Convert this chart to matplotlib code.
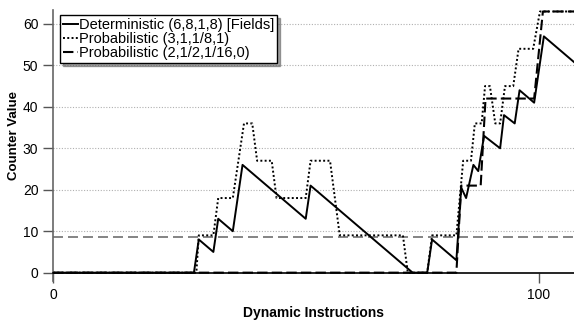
import matplotlib.pyplot as plt

plt.rcParams['font.family'] = ['Liberation Sans', 'DejaVu Sans']

# Deterministic (6,8,1,8) [Fields]
det_x = [0, 29, 30, 33, 34, 37, 39, 52, 53, 74, 77, 78, 83, 84, 85, 86.5, 87.5, 88.7,
         92, 92.8, 95, 96, 99, 101, 107.5]
det_y = [0, 0, 8, 5, 13, 10, 26, 13, 21, 0, 0, 8, 3, 20.5, 18, 26, 24.5, 33,
         30, 38, 36, 44, 41, 57, 50.5]

# Probabilistic (3,1,1/8,1)
p1_x = [0, 29.5, 30, 33, 34, 37, 39.3, 41, 42, 45, 46, 52, 53, 57, 59, 72, 73, 77, 78,
        83, 84.4, 86, 86.8, 88.2, 88.9, 89.9, 91, 92, 93, 94.7, 95.8, 98.8, 100.2, 107.5]
p1_y = [0, 0, 9, 9, 18, 18, 36, 36, 27, 27, 18, 18, 27, 27, 9, 9, 0, 0, 9,
        9, 27, 27, 36, 36, 45, 45, 36, 36, 45, 45, 54, 54, 63, 63]

# Probabilistic (2,1/2,1/16,0)
p2_x = [0, 83, 84, 88, 89, 99, 100.8, 107.5]
p2_y = [0, 0, 21, 21, 42, 42, 63, 63]

threshold = 8.5

fig = plt.figure(figsize=(5.74, 3.2), dpi=100)
ax = fig.add_axes([0.0923, 0.122, 0.9077, 0.846])

for y in [10, 20, 30, 40, 50, 60]:
    ax.axhline(y, color='#b0b0b0', lw=0.8, ls=(0, (1, 1.5)), zorder=0)

ax.axhline(threshold, color='#707070', lw=1.2, ls=(0, (6, 3)), zorder=1)

ax.plot(det_x, det_y, color='black', lw=1.4, label='Deterministic (6,8,1,8) [Fields]', zorder=3)
ax.plot(p1_x, p1_y, color='black', lw=1.4, ls=(0, (1, 1.2)), label='Probabilistic (3,1,1/8,1)', zorder=2)
ax.plot(p2_x, p2_y, color='black', lw=1.5, ls=(0, (5, 2)), label='Probabilistic (2,1/2,1/16,0)', zorder=2)

ax.set_xlim(0, 107.2)
ax.set_ylim(-2, 63.3)
ax.spines['top'].set_visible(False)
ax.spines['right'].set_visible(False)
ax.spines['bottom'].set_position(('data', 0))
ax.spines['left'].set_color('#666666')
ax.spines['left'].set_linewidth(1.2)
ax.spines['bottom'].set_linewidth(1.2)

ax.set_xticks([0, 100])
ax.set_yticks([0, 10, 20, 30, 40, 50, 60])
ax.tick_params(axis='both', direction='out', length=7, width=1, labelsize=10, color='#555555')
ax.tick_params(axis='x', pad=4)

ax.set_xlabel('Dynamic Instructions', fontsize=10, fontweight='bold', labelpad=3)
ax.set_ylabel('Counter Value', fontsize=9.5, fontweight='bold', labelpad=0)
ax.yaxis.set_label_coords(-0.064, 0.536)

leg = ax.legend(loc='upper left', bbox_to_anchor=(60 / 574, 1 - 15 / 320),
                bbox_transform=fig.transFigure, borderaxespad=0, fontsize=10.5,
                handlelength=1.0, handletextpad=0.1, labelspacing=0.0,
                borderpad=0.2, fancybox=False, shadow=True, framealpha=1)
leg.get_frame().set_edgecolor('black')
leg.get_frame().set_linewidth(1.0)

fig.savefig('out.png', dpi=100)
